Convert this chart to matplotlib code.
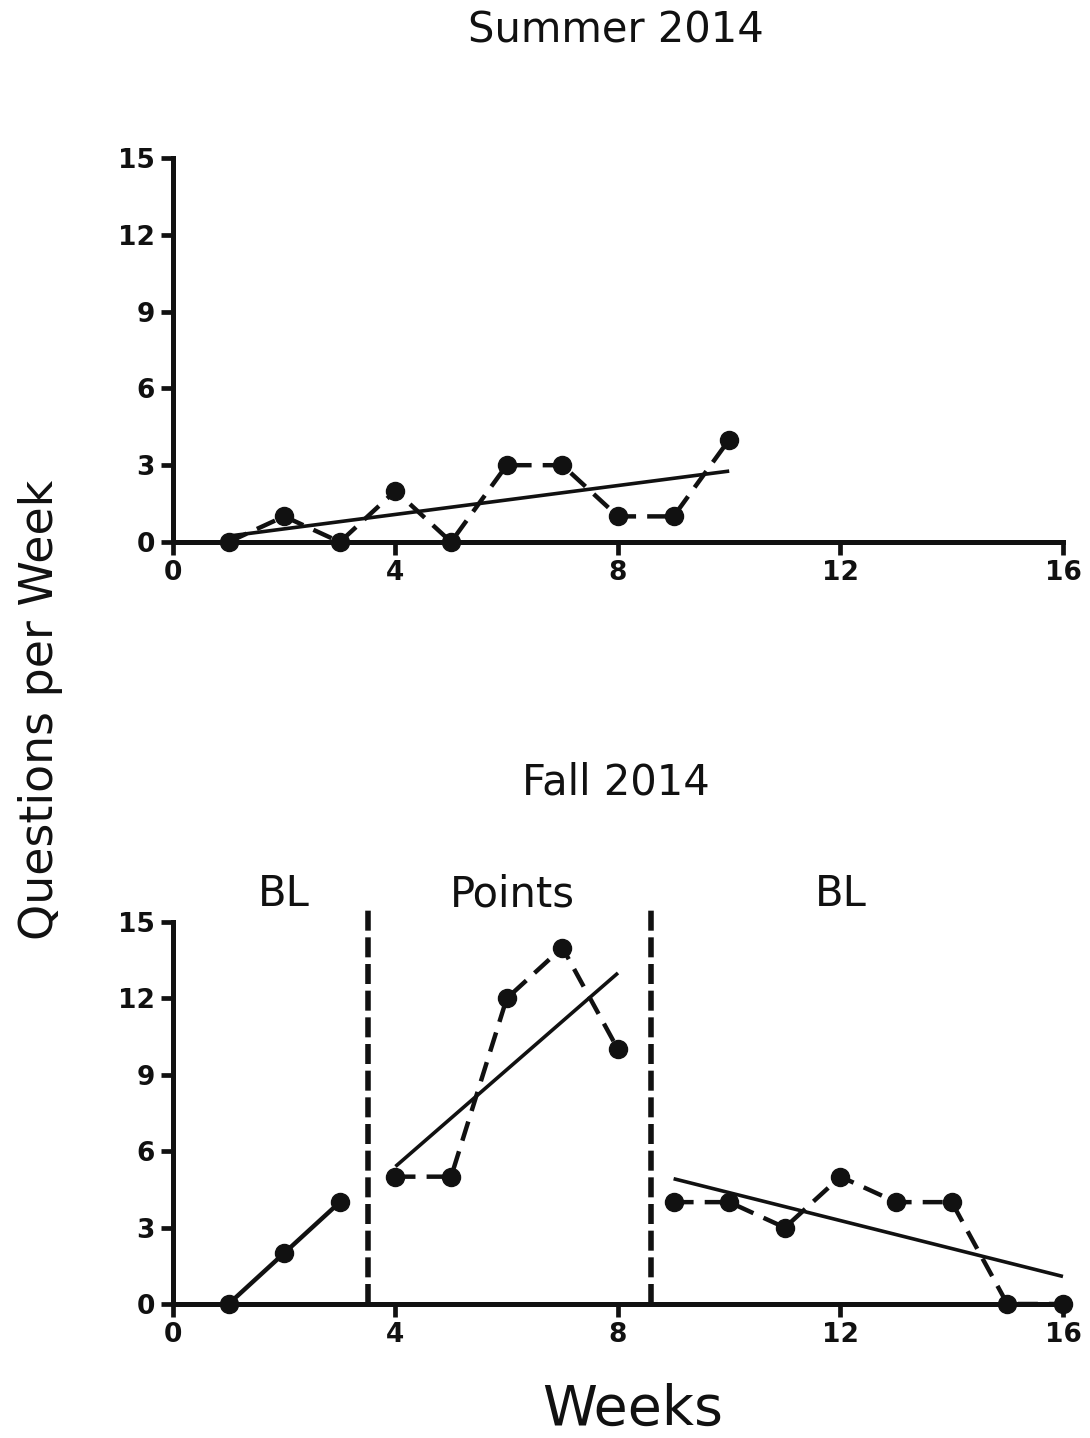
import matplotlib
matplotlib.use("Agg")
import matplotlib.pyplot as plt

# ---- data ----
summer_weeks = [1, 2, 3, 4, 5, 6, 7, 8, 9, 10]
summer_q = [0, 1, 0, 2, 0, 3, 3, 1, 1, 4]
summer_trend_x = [1, 10]
summer_trend_y = [0.23, 2.77]

fall_bl1_weeks = [1, 2, 3]
fall_bl1_q = [0, 2, 4]
fall_pts_weeks = [4, 5, 6, 7, 8]
fall_pts_q = [5, 5, 12, 14, 10]
fall_pts_trend_x = [4, 8]
fall_pts_trend_y = [5.4, 13.0]
fall_bl2_weeks = [9, 10, 11, 12, 13, 14, 15, 16]
fall_bl2_q = [4, 4, 3, 5, 4, 4, 0, 0]
fall_bl2_trend_x = [9, 16]
fall_bl2_trend_y = [4.92, 1.08]

phase_lines = [3.5, 8.6]
phase_labels = ["BL", "Points", "BL"]
phase_label_x = [2.0, 6.1, 12.0]

xticks = [0, 4, 8, 12, 16]
yticks = [0, 3, 6, 9, 12, 15]

# ---- style ----
INK = "#111111"
fig = plt.figure(figsize=(10.9, 14.38), dpi=100)

def style_axes(ax):
    ax.set_xlim(0, 16)
    ax.set_ylim(0, 15)
    for s in ["top", "right"]:
        ax.spines[s].set_visible(False)
    for s in ["left", "bottom"]:
        ax.spines[s].set_linewidth(3.6)
        ax.spines[s].set_color(INK)
    ax.set_xticks(xticks)
    ax.set_yticks(yticks)
    ax.tick_params(axis="both", length=9, width=3.4, color=INK, pad=4,
                   labelsize=19, labelcolor=INK)
    for lab in ax.get_xticklabels() + ax.get_yticklabels():
        lab.set_fontweight("heavy")
    ax.set_facecolor("none")

data_kw = dict(color=INK, lw=3.2, marker="o", ms=13, clip_on=False,
               dashes=(4.5, 2.5), zorder=3)
trend_kw = dict(color=INK, lw=2.6, solid_capstyle="butt", clip_on=False, zorder=4)

# Top panel
ax1 = fig.add_axes([0.1587, 0.6231, 0.8165, 0.267])
style_axes(ax1)
ax1.plot(summer_weeks, summer_q, **data_kw)
ax1.plot(summer_trend_x, summer_trend_y, **trend_kw)

# Bottom panel
ax2 = fig.add_axes([0.1587, 0.0932, 0.8165, 0.2656])
style_axes(ax2)
ax2.plot(fall_bl1_weeks, fall_bl1_q, color=INK, lw=3.2, marker="o", ms=13,
         clip_on=False, zorder=3)
ax2.plot(fall_pts_weeks, fall_pts_q, **data_kw)
ax2.plot(fall_pts_trend_x, fall_pts_trend_y, **trend_kw)
ax2.plot(fall_bl2_weeks, fall_bl2_q, **data_kw)
ax2.plot(fall_bl2_trend_x, fall_bl2_trend_y, **trend_kw)
for xv in phase_lines:
    ax2.plot([xv, xv], [0, 15.55], color=INK, lw=4.0, dashes=(3.6, 1.2),
             clip_on=False, zorder=2)
for lab, xv in zip(phase_labels, phase_label_x):
    ax2.text(xv, 16.1, lab, ha="center", va="center", fontsize=30, color=INK,
             clip_on=False)

fig.text(0.565, 0.979, "Summer 2014", ha="center", va="center", fontsize=30, color=INK)
fig.text(0.565, 0.4555, "Fall 2014", ha="center", va="center", fontsize=30, color=INK)
fig.text(0.58, 0.0195, "Weeks", ha="center", va="center", fontsize=40, color=INK)
fig.text(0.037, 0.506, "Questions per Week", ha="center", va="center",
         rotation=90, fontsize=33, color=INK)

fig.savefig("out.png", dpi=100)
